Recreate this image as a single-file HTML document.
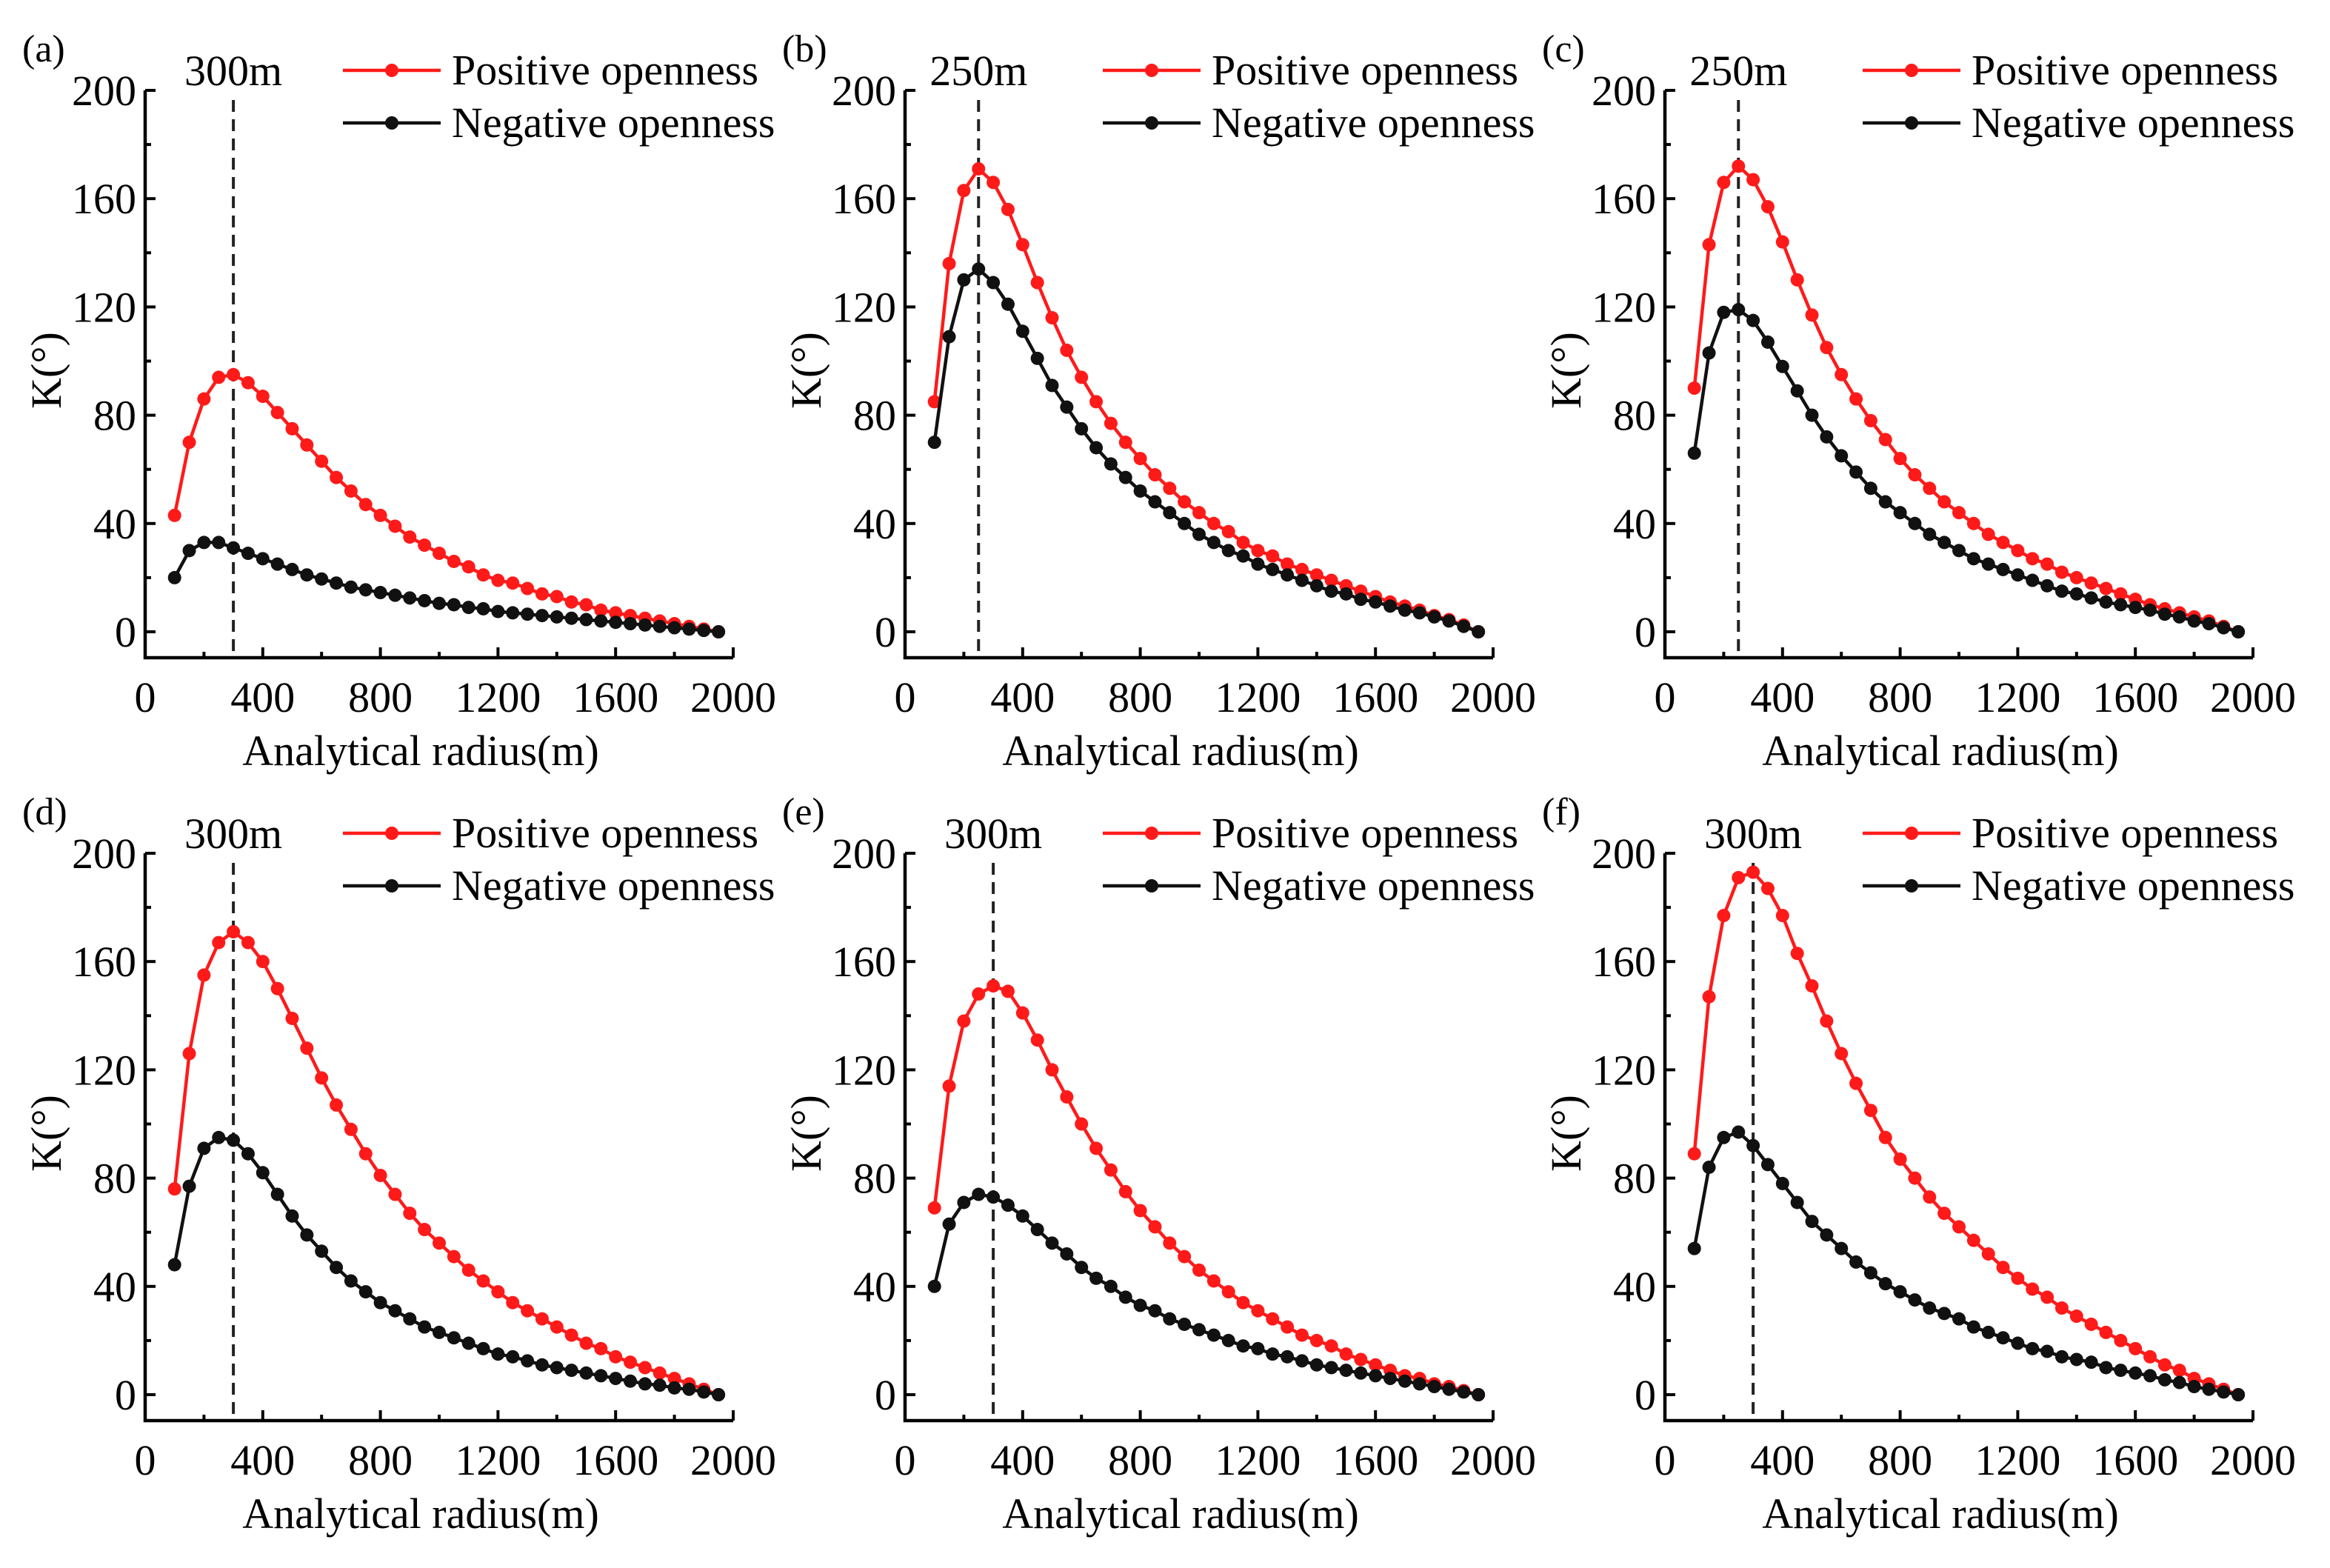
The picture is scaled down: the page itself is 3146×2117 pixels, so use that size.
<!DOCTYPE html>
<html><head><meta charset="utf-8"><style>
html,body{margin:0;padding:0;background:#fff;}
svg{display:block;font-family:"Liberation Serif",serif;}
</style></head><body>
<svg id="fig" width="3146" height="2117" viewBox="0 0 3146 2117" xmlns="http://www.w3.org/2000/svg"></svg>
<script>
const radii = [100,150,200,250,300,350,400,450,500,550,600,650,700,750,800,850,900,950,1000,1050,1100,1150,1200,1250,1300,1350,1400,1450,1500,1550,1600,1650,1700,1750,1800,1850,1900,1950];
const xTicks = [0,400,800,1200,1600,2000];
const yTicks = [0,40,80,120,160,200];
const panelLabels = ["(a)","(b)","(c)","(d)","(e)","(f)"];
const peakRadii = [300,250,250,300,300,300];
const posA = [43,70,86,94,95,92,87,81,75,69,63,57,52,47,43,39,35,32,29,26,24,21,19,18,16,14,13,11,10,8,7,6,5,4,3,2,1,0];
const negA = [20,30,33,33,31,29,27,25,23,21,19.5,18,16.5,15.5,14.5,13.5,12.5,11.5,10.5,10,9,8.5,7.5,7,6.5,6,5.5,5,4.5,4,3.5,3,2.5,2,1.5,1,0.5,0];
const posB = [85,136,163,171,166,156,143,129,116,104,94,85,77,70,64,58,53,48,44,40,37,33,30,28,25,23,21,19,17,15,13,11,9.5,8,6,4.5,2.5,0];
const negB = [70,109,130,134,129,121,111,101,91,83,75,68,62,57,52,48,44,40,36,33,30,28,25,23,21,19,17,15,14,12,11,9.5,8,7,5.5,4,2,0];
const posC = [90,143,166,172,167,157,144,130,117,105,95,86,78,71,64,58,53,48,44,40,36,33,30,27,25,22,20,18,16,14,12,10,8.5,7,5.5,4,2,0];
const negC = [66,103,118,119,115,107,98,89,80,72,65,59,53,48,44,40,36,33,30,27,25,23,21,19,17,15,14,12.5,11,10,9,8,6.5,5.5,4,3,1.5,0];
const posD = [76,126,155,167,171,167,160,150,139,128,117,107,98,89,81,74,67,61,56,51,46,42,38,34,31,28,25,22,19,17,14,12,10,8,6,4,2,0];
const negD = [48,77,91,95,94,89,82,74,66,59,53,47,42,38,34,31,28,25,23,21,19,17,15,14,12.5,11,10,9,8,7,6,5,4,3.5,2.5,2,1,0];
const posE = [69,114,138,148,151,149,141,131,120,110,100,91,83,75,68,62,56,51,46,42,38,34,31,28,25,22,20,18,15,13,11,9,7,6,4,3,1.5,0];
const negE = [40,63,71,74,73,70,66,61,56,52,47,43,40,36,33,31,28,26,24,22,20,18,17,15,14,12.5,11,10,9,8,7,6,5,4,3,2,1,0];
const posF = [89,147,177,191,193,187,177,163,151,138,126,115,105,95,87,80,73,67,62,57,52,47,43,39,36,32,29,26,23,20,17,14,11,9,6,4,2,0];
const negF = [54,84,95,97,92,85,78,71,64,59,54,49,45,41,38,35,32,30,28,25,23,21,19,17,16,14,13,12,10,9,8,7,5.5,4.5,3,2,1,0];
const posSeries = [posA,posB,posC,posD,posE,posF];
const negSeries = [negA,negB,negC,negD,negE,negF];

const NS = "http://www.w3.org/2000/svg";
const fig = document.getElementById('fig');
function mk(tag, attrs, parent){ const e=document.createElementNS(NS,tag); for(const k in attrs) e.setAttribute(k,attrs[k]); parent.appendChild(e); return e; }
const origins = [[196,853],[1222,853],[2248,853],[196,1883],[1222,1883],[2248,1883]];
const W = 794, H = 731;

for(let p=0;p<6;p++){
  const [ox,oy] = origins[p];
  const xs = v => ox + v/2000*W;
  const ys = v => oy - v/200*H;
  const g = mk('g',{},fig);
  
  
  const bottom = oy+35;
  const ax = mk('path',{d:`M${ox},${ys(200)} L${ox},${bottom} L${ox+W},${bottom}`,fill:'none',stroke:'#000','stroke-width':4.5},g);
  
  
  for(let v=0; v<=2000; v+=200){
    const major = v%400===0;
    mk('line',{x1:xs(v),x2:xs(v),y1:bottom,y2:bottom-(major?14:8),stroke:'#000','stroke-width':4},g);
  }
  xTicks.forEach(v=>{
    const t = mk('text',{x:xs(v),y:oy+108,'font-size':58,'text-anchor':'middle',fill:'#000'},g);
    t.textContent = v;
    
    
  });
  for(let v=0; v<=200; v+=20){
    const major = v%40===0;
    mk('line',{x1:ox,x2:ox+(major?14:8),y1:ys(v),y2:ys(v),stroke:'#000','stroke-width':4},g);
  }
  yTicks.forEach(v=>{
    const t = mk('text',{x:ox-12,y:ys(v)+20,'font-size':58,'text-anchor':'end',fill:'#000'},g);
    t.textContent = v;
    
    
  });
  const xl = mk('text',{x:ox+372,y:oy+180,'font-size':58,'text-anchor':'middle',fill:'#000'},g);
  xl.textContent = 'Analytical radius(m)';
  
  
  const yl = mk('text',{x:0,y:0,'font-size':58,'text-anchor':'middle',fill:'#000',transform:`translate(${ox-114},${oy-353}) rotate(-90)`},g);
  yl.textContent = 'K(°)';
  
  
  const pl = mk('text',{x:ox-166,y:oy-770,'font-size':52,fill:'#000'},g);
  pl.textContent = panelLabels[p];
  
  
  const dl = mk('line',{x1:xs(peakRadii[p]),x2:xs(peakRadii[p]),y1:oy-718,y2:bottom,stroke:'#222','stroke-width':4,'stroke-dasharray':'16,10'},g);
  
  
  const pk = mk('text',{x:xs(peakRadii[p]),y:oy-738,'font-size':58,'text-anchor':'middle',fill:'#000'},g);
  pk.textContent = peakRadii[p]+'m';
  
  
  [[posSeries[p],'#ff1a1a','positive-openness'],[negSeries[p],'#111','negative-openness']].forEach(([vals,col,name])=>{
    const sg = mk('g',{},g);
    
    
    const d = vals.map((v,i)=>(i?'L':'M')+xs(radii[i]).toFixed(1)+','+ys(v).toFixed(1)).join(' ');
    mk('path',{d:d,fill:'none',stroke:col,'stroke-width':4.5},sg);
    vals.forEach((v,i)=>{
      const c = mk('circle',{cx:xs(radii[i]),cy:ys(v),r:9,fill:col},sg);
      
      
    });
  });
  [['Positive openness','#ff1a1a',oy-758],['Negative openness','#111',oy-687]].forEach(([label,col,y])=>{
    const lg = mk('g',{},g);
    
    
    mk('line',{x1:ox+267,x2:ox+399,y1:y,y2:y,stroke:col,'stroke-width':4.5},lg);
    mk('circle',{cx:ox+333,cy:y,r:9,fill:col},lg);
    const t = mk('text',{x:ox+414,y:y+19,'font-size':58,fill:'#000'},lg);
    t.textContent = label;
  });
}
</script>
</body></html>
